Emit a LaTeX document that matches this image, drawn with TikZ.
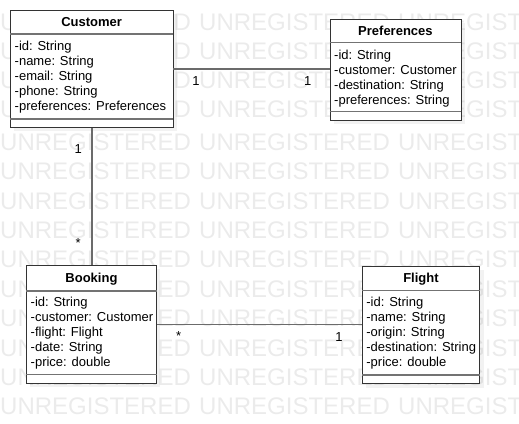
\documentclass[tikz,border=0pt]{standalone}
\usepackage{fontspec}
\setmainfont{Liberation Sans}
\usepackage{tikz}
\usetikzlibrary{shadows}

\begin{document}
\begin{tikzpicture}[
  x=1pt, y=-1pt,
  classbox/.style={draw=black!80, fill=white, line width=0.9pt, anchor=north west, inner sep=0pt,
    drop shadow={shadow xshift=4pt, shadow yshift=-4pt, fill=black, opacity=0.05}},
  title/.style={font=\fontsize{13}{15}\selectfont\bfseries, anchor=base, inner sep=0pt},
  attrs/.style={font=\fontsize{13}{15}\selectfont, align=left, anchor=north west, inner sep=0pt},
  sepline/.style={draw=black!55, line width=1.5pt},
  assoc/.style={draw=black!58, line width=1.6pt},
  mult/.style={font=\fontsize{13}{15}\selectfont, anchor=base, inner sep=0pt},
  wmark/.style={font=\fontsize{24}{24}\selectfont, text=black!8, anchor=base west, inner sep=0pt}
]
\useasboundingbox (0,0) rectangle (519,423);

% watermark
\begin{scope}
  \clip (0,0) rectangle (519,423);
  \foreach \wy [count=\r] in {30.3,59.3,88.3,117.3,150.3,179.7,209.1,238.5,267.9,297.3,326.7,356.1,385.5,414.9}
    \foreach \wx [count=\c] in {0,199,398}
      \node[wmark] (wm\r-\c) at (\wx,\wy) {UNREGISTERED};
\end{scope}

% classes
\node[classbox, minimum width=162.5pt, minimum height=117.5pt] (cust) at (10,9.5) {};
\node[title] (cust-t) at ([yshift=-17.3pt]cust.north) {Customer};
\node[attrs] (cust-a) at ([shift={(4.5pt,-31pt)}]cust.north west)
  {-id: String\\-name: String\\-email: String\\-phone: String\\-preferences: Preferences};
\draw[sepline] ([yshift=-24.5pt]cust.north west) -- ([yshift=-24.5pt]cust.north east);
\draw[sepline] ([yshift=9pt]cust.south west) -- ([yshift=9pt]cust.south east);

\node[classbox, minimum width=131pt, minimum height=101pt] (pref) at (329.5,18.5) {};
\node[title] (pref-t) at ([yshift=-17pt]pref.north) {Preferences};
\node[attrs] (pref-a) at ([shift={(4.5pt,-31pt)}]pref.north west)
  {-id: String\\-customer: Customer\\-destination: String\\-preferences: String};
\draw[sepline] ([yshift=-24pt]pref.north west) -- ([yshift=-24pt]pref.north east);
\draw[sepline] ([yshift=9pt]pref.south west) -- ([yshift=9pt]pref.south east);

\node[classbox, minimum width=130pt, minimum height=117.7pt] (book) at (26,265) {};
\node[title] (book-t) at ([yshift=-17.5pt]book.north) {Booking};
\node[attrs] (book-a) at ([shift={(4.5pt,-31.5pt)}]book.north west)
  {-id: String\\-customer: Customer\\-flight: Flight\\-date: String\\-price: double};
\draw[sepline] ([yshift=-26pt]book.north west) -- ([yshift=-26pt]book.north east);
\draw[sepline] ([yshift=9pt]book.south west) -- ([yshift=9pt]book.south east);

\node[classbox, minimum width=117.6pt, minimum height=117.6pt] (fl) at (361.7,265.7) {};
\node[title] (fl-t) at ([yshift=-17pt]fl.north) {Flight};
\node[attrs] (fl-a) at ([shift={(4.5pt,-31pt)}]fl.north west)
  {-id: String\\-name: String\\-origin: String\\-destination: String\\-price: double};
\draw[sepline] ([yshift=-25pt]fl.north west) -- ([yshift=-25pt]fl.north east);
\draw[sepline] ([yshift=9pt]fl.south west) -- ([yshift=9pt]fl.south east);

% associations
\coordinate (cp) at (cust.east -| pref.west);
\coordinate (cb) at (cust.south |- book.north);
\coordinate (bf) at (book.east -| fl.west);
\draw[assoc] (cust.east) -- (cp);
\draw[assoc] (cust.south) -- (cb);
\draw[assoc] (book.east) -- (bf);

\node[mult] (cp-1) at ([shift={(22.5pt,-16.3pt)}]cust.east) {1};
\node[mult] (cp-2) at ([shift={(-21.8pt,-16.3pt)}]cp) {1};
\node[mult] (cb-1) at ([shift={(-13.5pt,-26pt)}]cust.south) {1};
\node[mult] (cb-2) at ([shift={(-13.5pt,17.5pt)}]cb) {*};
\node[mult] (bf-1) at ([shift={(21.7pt,-16.4pt)}]book.east) {*};
\node[mult] (bf-2) at ([shift={(-22.7pt,-16.7pt)}]bf) {1};
\end{tikzpicture}
\end{document}
